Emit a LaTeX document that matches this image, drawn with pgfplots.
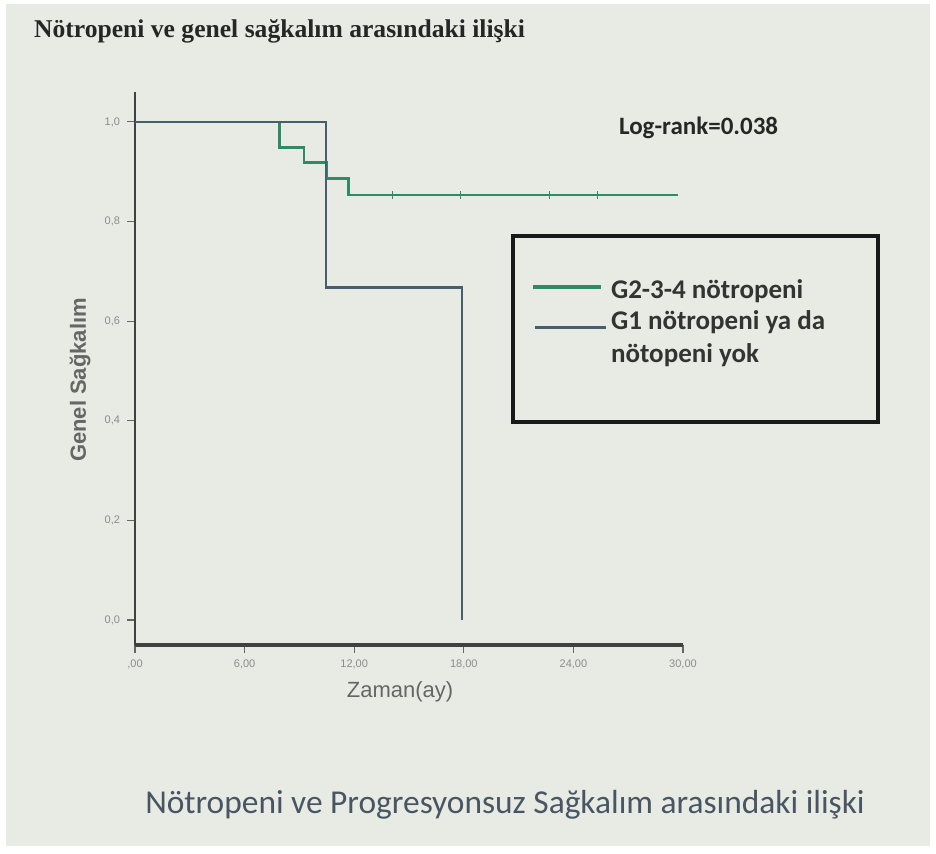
\documentclass[border=0pt]{standalone}
\usepackage{pgfplots}
\pgfplotsset{compat=1.18}
\usepackage{fontspec}
\setmainfont{Liberation Serif}
\newfontfamily\carlito{Carlito}
\newfontfamily\arial{Liberation Sans}
\definecolor{bgc}{RGB}{232,234,228}
\definecolor{kmgreen}{RGB}{46,139,100}
\definecolor{kmblue}{RGB}{70,95,112}
\definecolor{capc}{RGB}{72,86,100}
\begin{document}
\begin{tikzpicture}[x=0.5pt,y=0.5pt]
\fill[white] (0,0) rectangle (936,853);
\fill[bgc] (6,7) rectangle (930,849);
\node[anchor=west,font=\bfseries\fontsize{12.8}{14}\selectfont,text=black!85] at (27,822) {Nötropeni ve genel sağkalım arasındaki ilişki};
\begin{axis}[
  at={(67.5pt,104pt)}, anchor=south west,
  scale only axis, width=274pt, height=276.5pt,
  xmin=0, xmax=30, ymin=-0.05, ymax=1.06,
  axis x line=bottom, axis y line=left,
  axis line style={-, draw=black!75},
  x axis line style={line width=1.6pt},
  y axis line style={line width=1pt},
  xtick={0,6,12,18,24,30},
  xticklabels={{,00},{6,00},{12,00},{18,00},{24,00},{30,00}},
  ytick={0,0.2,0.4,0.6,0.8,1},
  yticklabels={{0,0},{0,2},{0,4},{0,6},{0,8},{1,0}},
  tick align=outside, major tick length=4pt,
  tick style={draw=black!60, line width=0.6pt},
  ticklabel style={font=\arial\fontsize{5.5}{6.5}\selectfont, text=black!45},
  clip=false,
]
\addplot[const plot, color=kmgreen, line width=1.3pt] coordinates {(0,1) (7.9,0.948) (9.25,0.918) (10.5,0.886) (11.7,0.853) (29.7,0.853)};
\addplot[const plot, color=kmblue, line width=1.3pt] coordinates {(0,1) (10.45,0.667) (17.9,0)};
\addplot[only marks, mark=|, mark size=2pt, color=kmgreen, line width=0.6pt] coordinates {(14.1,0.853) (17.8,0.853) (22.7,0.853) (25.3,0.853)};
\end{axis}
\node[font=\arial\fontsize{11}{13}\selectfont, text=black!60] at (400,161) {Zaman(ay)};
\node[rotate=90, font=\arial\bfseries\fontsize{11}{13}\selectfont, text=black!60] at (80,473) {Genel Sağkalım};
\node[anchor=west, font=\carlito\bfseries\fontsize{12.5}{14}\selectfont, text=black!85] at (612,725) {Log-rank=0.038};
\draw[line width=2.2pt, black!90] (513,617) rectangle (878,431);
\draw[line width=2pt, kmgreen] (533,566) -- (601,566);
\draw[line width=1.5pt, kmblue] (535,526) -- (606,526);
\node[anchor=west, font=\carlito\bfseries\fontsize{13.5}{15}\selectfont, text=black!80] at (604,562) {G2-3-4 nötropeni};
\node[anchor=west, font=\carlito\bfseries\fontsize{13.5}{15}\selectfont, text=black!80] at (604,531) {G1 nötropeni ya da};
\node[anchor=west, font=\carlito\bfseries\fontsize{13.5}{15}\selectfont, text=black!80] at (604,498) {nötopeni yok};
\node[font=\carlito\fontsize{16.7}{19}\selectfont, text=capc] at (505,48) {Nötropeni ve Progresyonsuz Sağkalım arasındaki ilişki};
\end{tikzpicture}
\end{document}
